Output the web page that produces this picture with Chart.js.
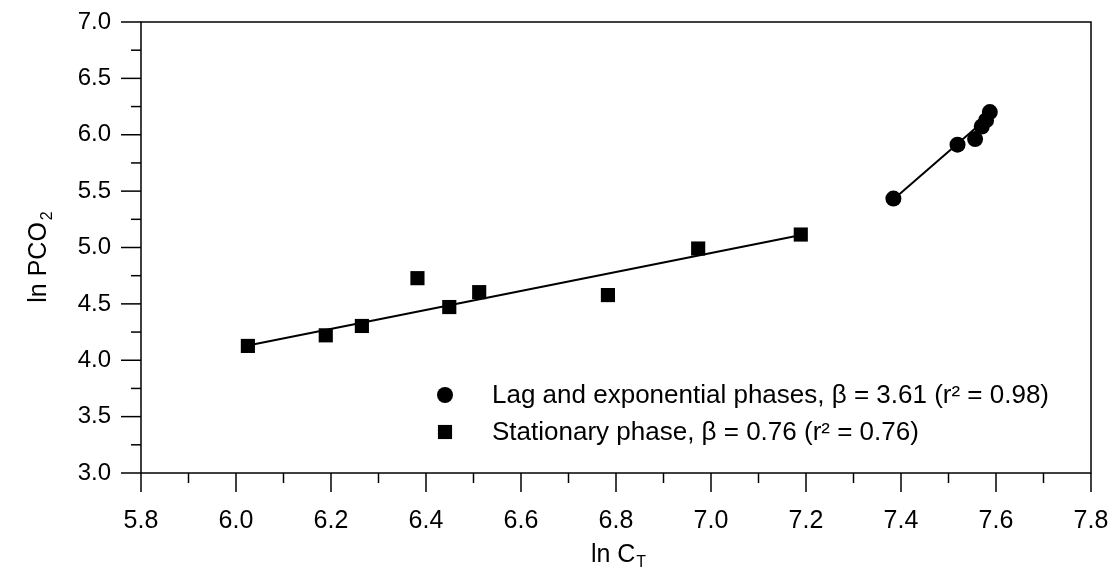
<!DOCTYPE html>
<html>
<head>
<meta charset="utf-8">
<script src="https://cdn.jsdelivr.net/npm/chart.js@4.4.0/dist/chart.umd.min.js"></script>
<style>
  html, body { margin: 0; padding: 0; background: #fff; }
  #wrap { width: 1111px; height: 572px; }
</style>
</head>
<body>
<div id="wrap"><canvas id="myChart"></canvas></div>
<script>
// Lag and exponential phases (circles)
const lagX = [7.384, 7.519, 7.556, 7.570, 7.579, 7.587];
const lagY = [5.434, 5.912, 5.962, 6.073, 6.127, 6.201];
// Stationary phase (squares)
const statX = [6.025, 6.189, 6.265, 6.382, 6.449, 6.512, 6.783, 6.973, 7.189];
const statY = [4.127, 4.221, 4.304, 4.728, 4.472, 4.604, 4.578, 4.991, 5.115];
// regression lines, end points
const lagFitX = [7.385, 7.59];
const lagFitY = [5.43, 6.18];
const statFitX = [6.025, 7.19];
const statFitY = [4.13, 5.11];

const legendLabels = [
	"Lag and exponential phases, \u03B2 = 3.61 (r\u00B2 = 0.98)",
	"Stationary phase, \u03B2 = 0.76 (r\u00B2 = 0.76)"
];
const xTitle = ["ln C", "T"];
const yTitle = ["ln PCO", "2"];

const FONT = "'Liberation Sans', Arial, sans-serif";

function pts(xs, ys) {
	return xs.map((x, i) => ({ x: x, y: ys[i] }));
}

// frame, major/minor ticks, titles and legend
const decorPlugin = {
	id: "decor",
	afterDraw(chart) {
		const { ctx, chartArea: a, scales: { x, y } } = chart;
		ctx.save();
		ctx.strokeStyle = "#000";
		ctx.lineWidth = 1.5;
		ctx.strokeRect(a.left, a.top, a.right - a.left, a.bottom - a.top);

		x.ticks.forEach(t => {
			const px = x.getPixelForValue(t.value);
			const len = t.label !== "" ? 19 : 10;
			ctx.beginPath();
			ctx.moveTo(px, a.bottom);
			ctx.lineTo(px, a.bottom + len);
			ctx.stroke();
		});
		y.ticks.forEach(t => {
			const py = y.getPixelForValue(t.value);
			const len = t.label !== "" ? 20 : 10;
			ctx.beginPath();
			ctx.moveTo(a.left, py);
			ctx.lineTo(a.left - len, py);
			ctx.stroke();
		});

		// axis titles with subscripts
		ctx.fillStyle = "#000";
		ctx.textBaseline = "alphabetic";
		ctx.font = "25px " + FONT;
		let w1 = ctx.measureText(xTitle[0]).width;
		ctx.font = "16px " + FONT;
		let w2 = ctx.measureText(xTitle[1]).width;
		let cx = (a.left + a.right) / 2 + 2;
		let start = cx - (w1 + w2) / 2;
		ctx.font = "25px " + FONT;
		ctx.textAlign = "left";
		ctx.fillText(xTitle[0], start, 562);
		ctx.font = "16px " + FONT;
		ctx.fillText(xTitle[1], start + w1 + 1, 567);

		ctx.save();
		ctx.translate(46, 258);
		ctx.rotate(-Math.PI / 2);
		ctx.font = "25px " + FONT;
		w1 = ctx.measureText(yTitle[0]).width;
		ctx.font = "16px " + FONT;
		w2 = ctx.measureText(yTitle[1]).width;
		start = -(w1 + w2) / 2;
		ctx.font = "25px " + FONT;
		ctx.fillText(yTitle[0], start, 0);
		ctx.font = "16px " + FONT;
		ctx.fillText(yTitle[1], start + w1 + 2, 6);
		ctx.restore();

		// legend
		const rows = [chart.data.datasets[0], chart.data.datasets[1]];
		const legY = [395, 432];
		ctx.font = "26px " + FONT;
		ctx.textBaseline = "middle";
		rows.forEach((ds, i) => {
			ctx.fillStyle = "#000";
			Chart.helpers.drawPoint(ctx, {
				pointStyle: ds.pointStyle,
				radius: ds.pointRadius,
				rotation: 0,
				borderWidth: 0
			}, 445, legY[i]);
			ctx.fillText(legendLabels[i], 492, legY[i] + 1);
		});
		ctx.restore();
	}
};

new Chart(document.getElementById("myChart").getContext("2d"), {
	type: "scatter",
	data: {
		datasets: [
			{
				label: legendLabels[0],
				data: pts(lagX, lagY),
				pointStyle: "circle",
				pointRadius: 8,
				backgroundColor: "#000",
				borderColor: "#000",
				borderWidth: 0,
				order: 0
			},
			{
				label: legendLabels[1],
				data: pts(statX, statY),
				pointStyle: "rect",
				pointRadius: 10,
				backgroundColor: "#000",
				borderColor: "#000",
				borderWidth: 0,
				order: 0
			},
			{
				data: pts(lagFitX, lagFitY),
				showLine: true,
				pointRadius: 0,
				borderColor: "#000",
				borderWidth: 2,
				order: 1
			},
			{
				data: pts(statFitX, statFitY),
				showLine: true,
				pointRadius: 0,
				borderColor: "#000",
				borderWidth: 2,
				order: 1
			}
		]
	},
	options: {
		responsive: true,
		maintainAspectRatio: false,
		animation: false,
		layout: { padding: { left: 0, top: 22, right: 20, bottom: 0 } },
		plugins: {
			legend: { display: false },
			tooltip: { enabled: false }
		},
		scales: {
			x: {
				type: "linear",
				min: 5.8,
				max: 7.8,
				afterFit: s => { s.height = 99; s.paddingLeft = 0; s.paddingRight = 0; },
				grid: { drawOnChartArea: false, tickLength: 19, tickColor: "rgba(0,0,0,0)" },
				border: { display: false },
				ticks: {
					stepSize: 0.1,
					autoSkip: false,
					maxRotation: 0,
					padding: 14,
					color: "#000",
					font: { family: FONT, size: 25 },
					callback: v => Math.round(v * 10) % 2 === 0 ? v.toFixed(1) : ""
				}
			},
			y: {
				type: "linear",
				min: 3.0,
				max: 7.0,
				afterFit: s => { s.width = 141; s.paddingTop = 0; s.paddingBottom = 0; },
				grid: { drawOnChartArea: false, tickLength: 20, tickColor: "rgba(0,0,0,0)" },
				border: { display: false },
				ticks: {
					stepSize: 0.25,
					autoSkip: false,
					padding: 10,
					color: "#000",
					font: { family: FONT, size: 24 },
					callback: v => Math.round(v * 4) % 2 === 0 ? v.toFixed(1) : ""
				}
			}
		}
	},
	plugins: [decorPlugin]
});
</script>
</body>
</html>
